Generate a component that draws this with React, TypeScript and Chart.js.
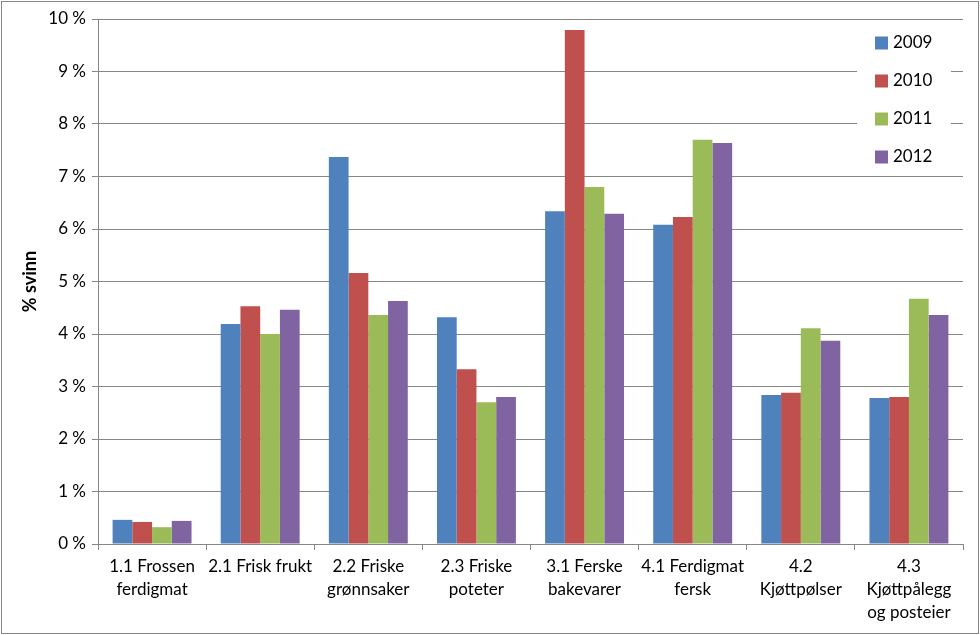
import React, { useEffect, useRef } from "react";
import { Chart, registerables } from "chart.js";

Chart.register(...registerables);

const categories: string[][] = [
  ["1.1 Frossen", "ferdigmat"],
  ["2.1 Frisk frukt"],
  ["2.2 Friske", "grønnsaker"],
  ["2.3 Friske", "poteter"],
  ["3.1 Ferske", "bakevarer"],
  ["4.1 Ferdigmat", "fersk"],
  ["4.2", "Kjøttpølser"],
  ["4.3", "Kjøttpålegg", "og posteier"],
];
const years = ["2009", "2010", "2011", "2012"];
const s2009 = [0.46, 4.19, 7.37, 4.32, 6.34, 6.08, 2.84, 2.78];
const s2010 = [0.42, 4.53, 5.16, 3.33, 9.79, 6.23, 2.88, 2.8];
const s2011 = [0.32, 4.0, 4.36, 2.7, 6.8, 7.7, 4.11, 4.67];
const s2012 = [0.44, 4.46, 4.63, 2.8, 6.29, 7.64, 3.87, 4.36];
const colors = ["#4F81BD", "#C0504D", "#9BBB59", "#8064A2"];
const yTitle = "% svinn";

const FONT = "Lato, Carlito, 'Liberation Sans', sans-serif";
const GRID = "#868686";

const frame = {
  id: "frame",
  beforeDraw(chart: any) {
    const { ctx, width, height } = chart;
    ctx.save();
    ctx.fillStyle = "#ffffff";
    ctx.fillRect(0, 0, width, height);
    ctx.strokeStyle = GRID;
    ctx.lineWidth = 1;
    ctx.strokeRect(1.5, 1.5, width - 3, height - 3);
    ctx.restore();
  },
};

const insideLegend = {
  id: "insideLegend",
  afterDraw(chart: any) {
    const { ctx, chartArea } = chart;
    const bx = chartArea.right - 106;
    const by = chartArea.top + 1;
    ctx.save();
    ctx.fillStyle = "#ffffff";
    ctx.fillRect(bx, by, 94, 155);
    ctx.font = `17px ${FONT}`;
    ctx.textBaseline = "middle";
    ctx.textAlign = "left";
    chart.data.datasets.forEach((ds: any, i: number) => {
      const cy = by + 23 + i * 38;
      ctx.fillStyle = ds.backgroundColor;
      ctx.fillRect(bx + 18, cy - 6.5, 13, 13);
      ctx.fillStyle = "#000000";
      ctx.fillText(ds.label, bx + 36, cy);
    });
    ctx.restore();
  },
};

export default function App() {
  const ref = useRef<HTMLCanvasElement>(null);
  useEffect(() => {
    const chart = new Chart(ref.current!, {
      type: "bar",
      data: {
        labels: categories,
        datasets: [s2009, s2010, s2011, s2012].map((d, i) => ({
          label: years[i],
          data: d,
          backgroundColor: colors[i],
          borderWidth: 0,
          categoryPercentage: 0.73,
          barPercentage: 1,
        })),
      },
      options: {
        animation: false,
        responsive: false,
        devicePixelRatio: 1,
        layout: { padding: { left: 0, right: 17, top: 19, bottom: 0 } },
        plugins: {
          legend: { display: false },
          tooltip: { enabled: false },
        },
        scales: {
          x: {
            grid: {
              display: true,
              drawOnChartArea: false,
              offset: true,
              color: GRID,
              tickLength: 6,
            },
            border: { color: GRID },
            ticks: {
              color: "#000",
              font: { family: FONT, size: 17, lineHeight: 1.35 },
              padding: 5,
              maxRotation: 0,
              autoSkip: false,
            },
            afterFit: (s: any) => {
              s.height = 91;
            },
          },
          y: {
            min: 0,
            max: 10,
            ticks: {
              stepSize: 1,
              color: "#000",
              font: { family: FONT, size: 17 },
              padding: 6,
              callback: (v: any) => `${v} %`,
            },
            grid: { color: GRID, tickLength: 6 },
            border: { color: GRID },
            title: {
              display: true,
              text: yTitle,
              color: "#000",
              font: { family: FONT, size: 18, weight: "bold" },
              padding: { top: 19, bottom: 0 },
            },
            afterFit: (s: any) => {
              s.width = 98;
            },
          },
        },
      },
      plugins: [frame, insideLegend],
    });
    return () => chart.destroy();
  }, []);
  return (
    <div style={{ position: "fixed", left: 0, top: 0, width: 980, height: 635 }}>
      <canvas ref={ref} width={980} height={635} style={{ width: 980, height: 635 }} />
    </div>
  );
}
